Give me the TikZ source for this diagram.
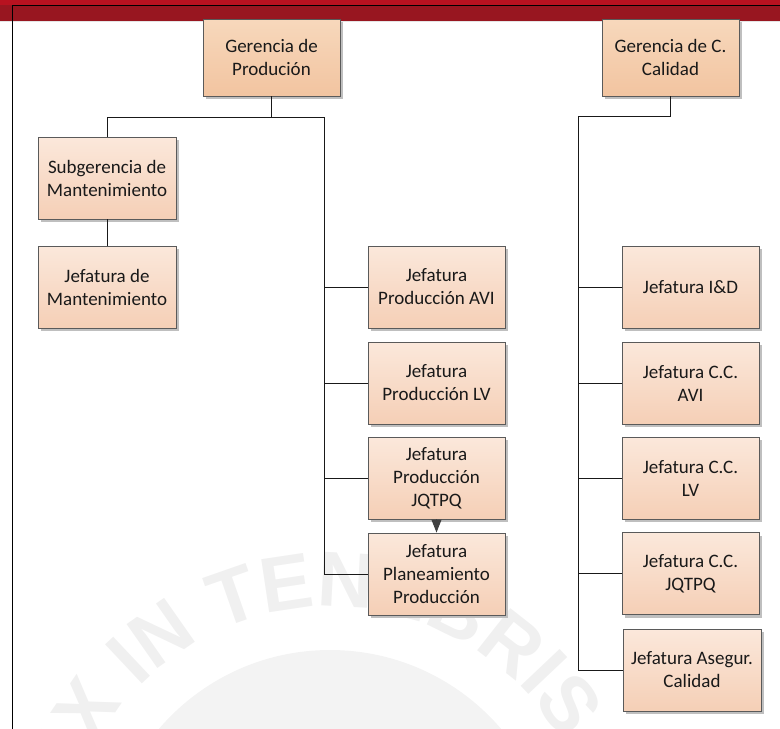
\documentclass[tikz,border=0pt]{standalone}
\usepackage{fontspec}
\setmainfont{Carlito}
\newfontfamily\wmfont{Liberation Sans}
\usetikzlibrary{arrows.meta,shadows,decorations.text}

\definecolor{bandred}{RGB}{152,22,32}
\definecolor{bandtop}{RGB}{184,18,32}
\definecolor{headtop}{RGB}{247,216,188}
\definecolor{headbot}{RGB}{242,196,160}
\definecolor{unittop}{RGB}{251,232,219}
\definecolor{unitbot}{RGB}{245,207,182}
\definecolor{boxline}{RGB}{90,90,90}
\definecolor{wmdisk}{RGB}{243,243,243}
\definecolor{wmtext}{RGB}{240,240,240}

\tikzset{
  orgbox/.style={rectangle, draw=boxline, line width=0.9pt,
    minimum width=137pt, minimum height=82pt, inner sep=0pt,
    align=center, text=black!90, font=\fontsize{19}{23}\selectfont,
    drop shadow={shadow xshift=3pt, shadow yshift=-3pt, fill=black!25, opacity=1}},
  headbox/.style={orgbox, top color=headtop, bottom color=headbot, minimum height=77pt},
  unitbox/.style={orgbox, top color=unittop, bottom color=unitbot},
  link/.style={draw=black!90, line width=1pt},
}

\begin{document}
\begin{tikzpicture}[x=1pt, y=-1pt]
\useasboundingbox (0,0) rectangle (780,729);

% faint university seal in the background
\begin{scope}[shift={(330pt,-875pt)}, x=1pt, y=1pt]
  \fill[wmdisk] (0,0) circle (225);
  \path[decorate, decoration={text along path, text align=right,
      text={|\wmfont\bfseries\fontsize{78}{78}\selectfont\color{wmtext}|LUX IN TENEBRIS}}]
    (175:268) arc (175:30:268);
\end{scope}

% header band and page frame
\fill[bandred] (0,0) rectangle (780,20.5);
\fill[bandtop] (0,0) rectangle (780,5);
\fill[black!10] (0,20.5) rectangle (780,22);
\draw[black, line width=1.4pt] (12.5,729) -- (12.5,5.6) -- (780,5.6);

% bus points of the two branches
\coordinate (pbus) at (324,117);
\coordinate (cbus) at (578,116.5);

% boxes
\node[headbox] (gp) at (271.5,57.5) {Gerencia de\\Produción};
\node[headbox] (gc) at (670.5,57.5) {Gerencia de C.\\Calidad};

\node[unitbox, minimum width=138pt] (sm) at (107,178) {Subgerencia de\\Mantenimiento};
\node[unitbox, minimum width=138pt] (jm) at (107,287) {Jefatura de\\Mantenimiento};

\node[unitbox] (pa) at (436.5,287) {Jefatura\\Producción AVI};
\node[unitbox] (pl) at (436.5,383) {Jefatura\\Producción LV};
\node[unitbox] (pj) at (436.5,478) {Jefatura\\Producción\\JQTPQ};
\node[unitbox] (pp) at (436.5,574) {Jefatura\\Planeamiento\\Producción};

\node[unitbox] (ci) at (690.5,287) {Jefatura I\&D};
\node[unitbox] (ca) at (690.5,383) {Jefatura C.C.\\AVI};
\node[unitbox] (cl) at (690.5,478) {Jefatura C.C.\\LV};
\node[unitbox] (cj) at (690.5,573.5) {Jefatura C.C.\\JQTPQ};
\node[unitbox, minimum width=138pt] (cs) at (692,670) {Jefatura Asegur.\\Calidad};

% connectors
\draw[link] (gp.south) |- (pbus);
\draw[link] (gp.south) |- (sm.north |- pbus) -- (sm.north);
\draw[link] (sm.south) -- (jm.north);
\draw[link] (pbus) |- (pa.west);
\draw[link] (pbus) |- (pl.west);
\draw[link] (pbus) |- (pj.west);
\draw[link] (pbus) |- (pp.west);

\draw[link] (gc.south) |- (cbus);
\draw[link] (cbus) |- (ci.west);
\draw[link] (cbus) |- (ca.west);
\draw[link] (cbus) |- (cl.west);
\draw[link] (cbus) |- (cj.west);
\draw[link] (cbus) |- (cs.west);

\draw[draw=black!75, line width=1pt, -{Triangle[width=10pt,length=13pt]}] (pj.south) -- (pp.north);
\end{tikzpicture}
\end{document}
